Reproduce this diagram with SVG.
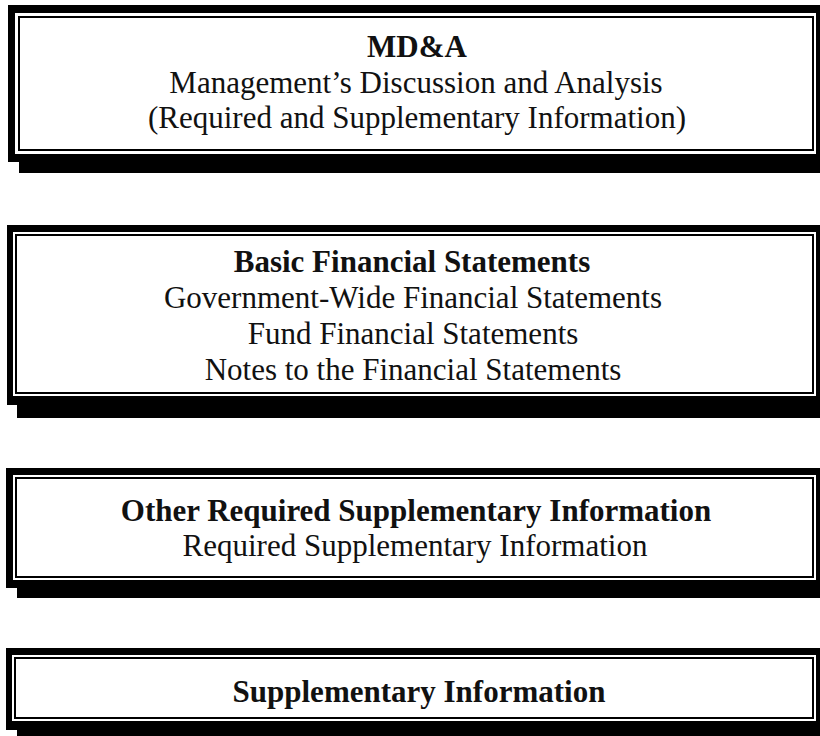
<svg xmlns="http://www.w3.org/2000/svg" width="820" height="736" viewBox="0 0 820 736">
<style>
.blk{fill:#000}
.gap{fill:#fff}
.line{fill:#fff;stroke:#000;stroke-width:2}
text{font-family:"Liberation Serif","Times New Roman",serif;font-size:31px;fill:#111;text-anchor:middle}
.b{font-weight:bold}
</style>
<rect width="820" height="736" fill="#fff"/>
<g id="mda">
<rect class="blk" x="19" y="150" width="801" height="23"/>
<rect class="blk" x="8" y="5" width="812" height="157"/>
<rect class="gap" x="15" y="13" width="801" height="141"/>
<rect class="line" x="19" y="17" width="794" height="133"/>
<text class="b" x="417" y="57">MD&amp;A</text>
<text x="416" y="93">Management’s Discussion and Analysis</text>
<text x="417" y="128">(Required and Supplementary Information)</text>
</g>
<g id="basic">
<rect class="blk" x="17" y="393" width="803" height="25"/>
<rect class="blk" x="7" y="225" width="813" height="180"/>
<rect class="gap" x="13" y="232" width="803" height="164"/>
<rect class="line" x="16" y="235" width="797" height="158"/>
<text class="b" x="412" y="272">Basic Financial Statements</text>
<text x="413" y="308">Government-Wide Financial Statements</text>
<text x="413" y="344">Fund Financial Statements</text>
<text x="413" y="380">Notes to the Financial Statements</text>
</g>
<g id="other">
<rect class="blk" x="17" y="577" width="803" height="21"/>
<rect class="blk" x="6" y="468" width="814" height="120"/>
<rect class="gap" x="13" y="475" width="803" height="105"/>
<rect class="line" x="16" y="478" width="797" height="99"/>
<text class="b" x="416" y="521">Other Required Supplementary Information</text>
<text x="415" y="556">Required Supplementary Information</text>
</g>
<g id="supp">
<rect class="blk" x="17" y="718" width="803" height="18"/>
<rect class="blk" x="6" y="648" width="814" height="82"/>
<rect class="gap" x="12" y="655" width="804" height="66"/>
<rect class="line" x="15" y="658" width="798" height="60"/>
<text class="b" x="419" y="702">Supplementary Information</text>
</g>
</svg>
